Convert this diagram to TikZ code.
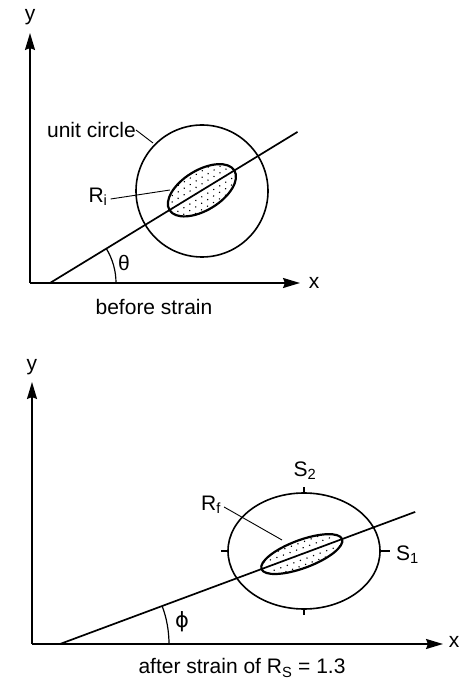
\documentclass[tikz,border=0pt]{standalone}
\usepackage{fontspec}
\setmainfont{Liberation Sans}
\newfontfamily\dejavu{DejaVu Sans}
\usetikzlibrary{arrows.meta,calc}
\tikzset{
  axis/.style={line width=1.8pt,-{Stealth[length=17pt,width=10pt,inset=2pt]}},
  ray/.style={line width=1.7pt},
  ring/.style={line width=1.6pt},
  grain/.style={line width=2.2pt},
  leader/.style={line width=0.9pt},
  anglearc/.style={line width=1.2pt},
  tick/.style={line width=1.4pt},
  lbl/.style={inner sep=0pt,font=\fontsize{21}{23}\selectfont},
}
\newcommand{\stipple}{%
  \foreach \j in {-6,...,6}{%
    \foreach \i in {-8,...,8}{%
      \fill ({\i*7+3.5*mod(abs(\j),2)},{\j*5.5}) circle (0.8pt);
    }%
  }%
}
\begin{document}
\begin{tikzpicture}[x=1pt,y=1pt]
\useasboundingbox (0,0) rectangle (471,681);
% ---------------- top: before strain ----------------
\coordinate (O1) at (30,398);
\coordinate (Y1) at (30,648);
\coordinate (X1) at (300,398);
\coordinate (L1) at (50,398);
\coordinate (L1end) at ($(L1)+(31.4:290)$);
\coordinate (C1) at (202,490);
\coordinate (E1) at ($(L1)+(31.4:178)$);
\draw[axis] (O1) -- (Y1);
\draw[axis] (O1) -- (X1);
\node[lbl] (ylab1) at (30,664) {y};
\node[lbl] (xlab1) at (314,398) {x};
\draw[ring] (C1) circle (66);
\begin{scope}[rotate around={31.4:(E1)}]
  \fill[white] (E1) ellipse [x radius=38, y radius=20];
  \begin{scope}
    \clip (E1) ellipse [x radius=38, y radius=20];
    \begin{scope}[shift={(E1)}]\stipple\end{scope}
  \end{scope}
  \draw[grain] (E1) ellipse [x radius=38, y radius=20];
\end{scope}
\draw[ray] (L1) -- (L1end);
\draw[anglearc] ($(L1)+(66,0)$) arc[start angle=0, end angle=31.4, radius=66];
\node[lbl] (theta) at (124,418) {θ};
\node[lbl,anchor=east] (uc) at (136,551) {unit circle};
\coordinate (ucpt) at (153,538);
\draw[leader] (uc.east) -- (ucpt);
\node[lbl] (ri) at (98,484) {R\textsubscript{i}};
\coordinate (ript) at (170,491);
\draw[leader] ($(ri.east)+(3,-2)$) -- (ript);
\node[lbl] (cap1) at (154,374) {before strain};
% ---------------- bottom: after strain ----------------
\coordinate (O2) at (32,37);
\coordinate (Y2) at (32,299);
\coordinate (X2) at (443,37);
\coordinate (L2) at (60,37);
\coordinate (L2end) at ($(L2)+(20.4:379)$);
\coordinate (C2) at (304,130);
\coordinate (E2) at ($(L2)+(20.4:258)$);
\draw[axis] (O2) -- (Y2);
\draw[axis] (O2) -- (X2);
\node[lbl] (ylab2) at (32,314) {y};
\node[lbl] (xlab2) at (454,39) {x};
\draw[ring] (C2) ellipse [x radius=76, y radius=58];
\draw[tick] ($(C2)+(0,58)$) -- ++(0,6);
\draw[tick] ($(C2)+(0,-58)$) -- ++(0,-6);
\draw[tick] ($(C2)+(-76,0)$) -- ++(-7,0);
\draw[tick] ($(C2)+(76,0)$) -- ++(10,0);
\begin{scope}[rotate around={20.4:(E2)}]
  \fill[white] (E2) ellipse [x radius=43, y radius=14];
  \begin{scope}
    \clip (E2) ellipse [x radius=43, y radius=14];
    \begin{scope}[shift={(E2)}]\stipple\end{scope}
  \end{scope}
  \draw[grain] (E2) ellipse [x radius=43, y radius=14];
\end{scope}
\draw[ray] (L2) -- (L2end);
\draw[anglearc] ($(L2)+(109,0)$) arc[start angle=0, end angle=20.4, radius=109];
\node[lbl] (phi) at (182,59) {\dejavu ϕ};
\node[lbl] (rf) at (211,176) {R\textsubscript{f}};
\coordinate (rfpt) at (282,141);
\draw[leader] ($(rf.east)+(3,-2)$) -- (rfpt);
\node[lbl] (s2) at (305,210) {S\textsubscript{2}};
\node[lbl,anchor=west] (s1) at (396,126) {S\textsubscript{1}};
\node[lbl] (cap2) at (242,13) {after strain of R\textsubscript{S} = 1.3};
\end{tikzpicture}
\end{document}
